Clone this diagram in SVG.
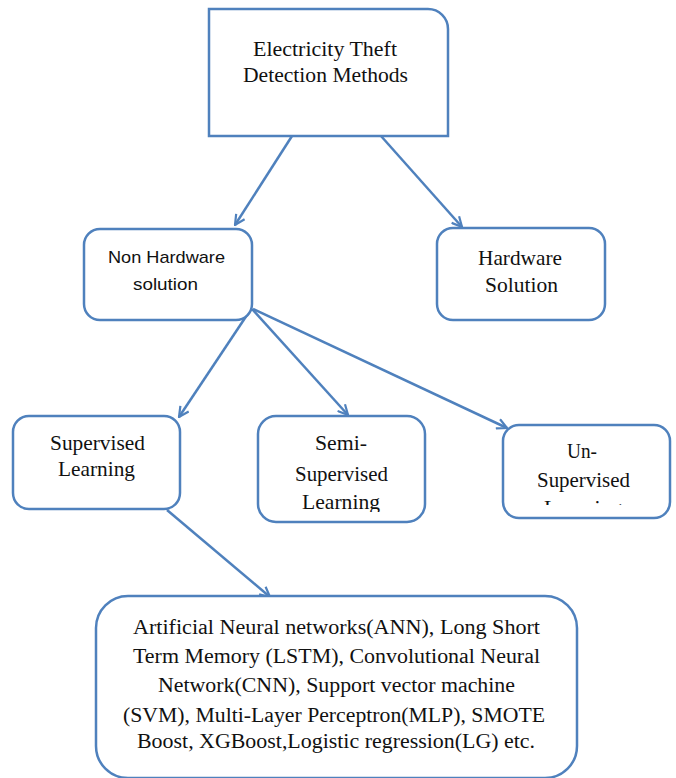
<svg xmlns="http://www.w3.org/2000/svg" width="676" height="778" viewBox="0 0 676 778">
<defs>
<style>
.box{fill:#fff;stroke:#4F81BD;stroke-width:2.5}
.t{font-family:"Liberation Serif","Times New Roman",serif;font-size:21px;fill:#111;text-anchor:middle}
.s{font-family:"Liberation Sans",Arial,sans-serif;font-size:17px;fill:#111;text-anchor:middle}
.b{font-family:"Liberation Serif","Times New Roman",serif;font-size:20px;fill:#111;text-anchor:middle}
.c{fill:none;stroke:#4F81BD;stroke-width:2.5}
</style>
<marker id="ah" viewBox="0 0 12 12" refX="11" refY="6" markerWidth="12" markerHeight="12" markerUnits="userSpaceOnUse" orient="auto">
<path d="M1,1 L11,6 L1,11" fill="none" stroke="#4F81BD" stroke-width="2.2"/>
</marker>
<clipPath id="clipSemi"><rect x="250" y="400" width="190" height="112"/></clipPath>
<clipPath id="clipUn"><rect x="495" y="410" width="180" height="95"/></clipPath>
</defs>
<rect width="676" height="778" fill="#fff"/>
<g id="connectors">
<line class="c" x1="292" y1="136" x2="235" y2="225" marker-end="url(#ah)"/>
<line class="c" x1="381" y1="136" x2="462" y2="227" marker-end="url(#ah)"/>
<line class="c" x1="251" y1="309" x2="179" y2="417" marker-end="url(#ah)"/>
<line class="c" x1="252" y1="309" x2="348" y2="415" marker-end="url(#ah)"/>
<line class="c" x1="253" y1="309" x2="507" y2="428" marker-end="url(#ah)"/>
<line class="c" x1="167" y1="510" x2="270" y2="597" marker-end="url(#ah)"/>
</g>
<g id="node-methods">
<path class="box" d="M209,9 H428 A20,20 0 0 1 448,29 V136 H209 Z"/>
<text class="t" x="325" y="56" textLength="144" lengthAdjust="spacingAndGlyphs">Electricity Theft</text>
<text class="t" x="325.5" y="82" textLength="165" lengthAdjust="spacingAndGlyphs">Detection Methods</text>
</g>
<g id="node-nonhardware">
<rect class="box" x="84" y="229" width="168" height="91" rx="16"/>
<text class="s" x="166.5" y="263" textLength="117" lengthAdjust="spacingAndGlyphs">Non Hardware</text>
<text class="s" x="165.5" y="290" textLength="65" lengthAdjust="spacingAndGlyphs">solution</text>
</g>
<g id="node-hardware">
<rect class="box" x="437" y="228" width="168" height="92" rx="16"/>
<text class="t" x="520" y="265" textLength="84" lengthAdjust="spacingAndGlyphs">Hardware</text>
<text class="t" x="521.5" y="292" textLength="73" lengthAdjust="spacingAndGlyphs">Solution</text>
</g>
<g id="node-supervised">
<rect class="box" x="13" y="416" width="167" height="93" rx="16"/>
<text class="t" x="97.5" y="450" textLength="95" lengthAdjust="spacingAndGlyphs">Supervised</text>
<text class="t" x="96.5" y="476" textLength="77" lengthAdjust="spacingAndGlyphs">Learning</text>
</g>
<g id="node-semi">
<rect class="box" x="258" y="416" width="167" height="106" rx="18"/>
<g clip-path="url(#clipSemi)">
<text class="t" x="341" y="450" textLength="52" lengthAdjust="spacingAndGlyphs">Semi-</text>
<text class="t" x="341.5" y="481" textLength="93" lengthAdjust="spacingAndGlyphs">Supervised</text>
<text class="t" x="341" y="509" textLength="78" lengthAdjust="spacingAndGlyphs">Learning</text>
</g>
</g>
<g id="node-unsupervised">
<rect class="box" x="503" y="425" width="167" height="93" rx="16"/>
<g clip-path="url(#clipUn)">
<text class="t" x="582" y="458" textLength="30" lengthAdjust="spacingAndGlyphs">Un-</text>
<text class="t" x="583.5" y="487" textLength="93" lengthAdjust="spacingAndGlyphs">Supervised</text>
<text class="t" x="583" y="515" textLength="78" lengthAdjust="spacingAndGlyphs">Learning</text>
</g>
</g>
<g id="node-methods-list">
<rect class="box" x="96" y="596" width="481" height="182" rx="32"/>
<text class="b" x="336.5" y="634" textLength="407" lengthAdjust="spacingAndGlyphs">Artificial Neural networks(ANN), Long Short</text>
<text class="b" x="336.5" y="663" textLength="407" lengthAdjust="spacingAndGlyphs">Term Memory (LSTM), Convolutional Neural</text>
<text class="b" x="336.5" y="692" textLength="357" lengthAdjust="spacingAndGlyphs">Network(CNN), Support vector machine</text>
<text class="b" x="334" y="722" textLength="422" lengthAdjust="spacingAndGlyphs">(SVM), Multi-Layer Perceptron(MLP), SMOTE</text>
<text class="b" x="336" y="748" textLength="398" lengthAdjust="spacingAndGlyphs">Boost, XGBoost,Logistic regression(LG) etc.</text>
</g>
</svg>
